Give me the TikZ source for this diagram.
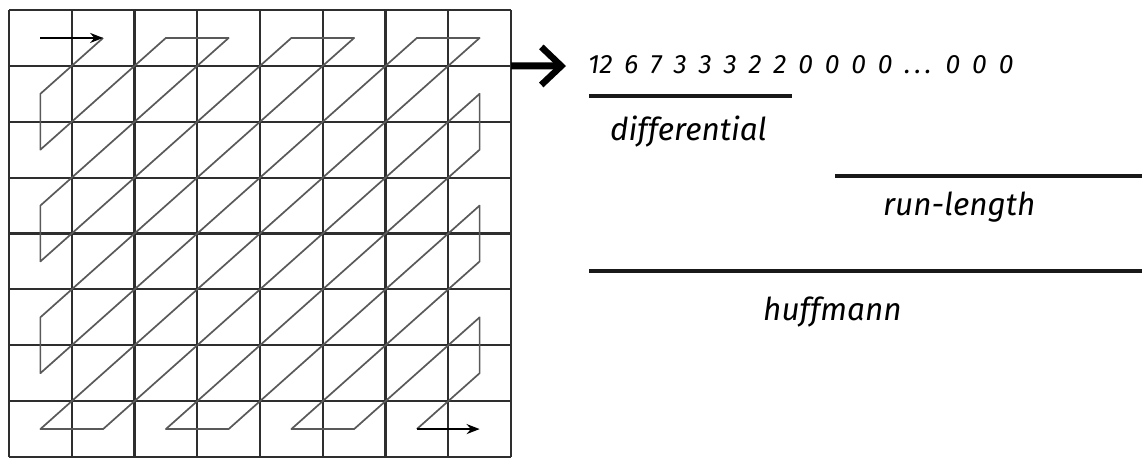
\documentclass[tikz,border=0pt]{standalone}
\usepackage{fontspec}
\setmainfont{Fira Sans}
\usetikzlibrary{arrows.meta}
\newcommand{\widesp}{\spaceskip=11.9pt\relax}
\begin{document}
\begin{tikzpicture}[x=1pt,y=-1pt,
  gridline/.style={draw=black!82,line width=2.2pt},
  scanline/.style={draw=black!65,line width=1.7pt,line join=round},
  scanarrow/.style={draw=black,line width=1.8pt,-{Stealth[length=13pt,width=10pt]}},
  bigarrow/.style={draw=black,line width=7pt,-{Straight Barb[length=20pt,width=38pt,line width=6.5pt]}},
  rule/.style={draw=black!90,line width=4.5pt},
  seq/.style={inner sep=0pt,anchor=base west,font=\fontsize{26.5}{30}\selectfont\itshape},
  lbl/.style={inner sep=0pt,anchor=base west,font=\fontsize{31.5}{36}\selectfont\itshape}]
\useasboundingbox (0,0) rectangle (1142,459);
\fill[white] (0,0) rectangle (1142,459);
% grid
\begin{scope}[shift={(9,10)},x=62.75pt,y=-55.875pt]
  \foreach \k in {0,...,8} {
    \draw[gridline] (\k,0) -- (\k,8);
    \draw[gridline] (0,\k) -- (8,\k);
  }
  \foreach \c in {0,...,7} {
    \foreach \r in {0,...,7} {
      \coordinate (c\c r\r) at (\c+0.5,\r+0.5);
    }
  }
  \coordinate (gridedge) at (8,1);
\end{scope}
% zigzag scan
\draw[scanline] (c1r0) -- (c0r1) -- (c0r2) -- (c2r0) -- (c3r0) -- (c0r3) -- (c0r4) -- (c4r0)
  -- (c5r0) -- (c0r5) -- (c0r6) -- (c6r0) -- (c7r0) -- (c0r7) -- (c1r7) -- (c7r1)
  -- (c7r2) -- (c2r7) -- (c3r7) -- (c7r3) -- (c7r4) -- (c4r7) -- (c5r7) -- (c7r5)
  -- (c7r6) -- (c6r7);
\draw[scanarrow] (c0r0) -- (c1r0);
\draw[scanarrow] (c6r7) -- (c7r7);
% big arrow
\coordinate (arrowend) at (566,66);
\draw[bigarrow] (gridedge) -- (arrowend);
% text
\node[seq] (sequence) at (588,73) {\widesp 12 6 7 3 3 3 2 2 0 0 0 0 .\kern4pt.\kern4pt. 0 0 0};
\coordinate (d1) at (589,96); \coordinate (d2) at (792,96);
\draw[rule] (d1) -- (d2);
\node[lbl] (diff) at (610,140) {differential};
\coordinate (r1) at (835,176); \coordinate (r2) at (1142,176);
\draw[rule] (r1) -- (r2);
\node[lbl] (runlen) at (883,215) {run-length};
\coordinate (h1) at (589,271); \coordinate (h2) at (1142,271);
\draw[rule] (h1) -- (h2);
\node[lbl] (huff) at (763,320) {huffmann};
\end{tikzpicture}
\end{document}
